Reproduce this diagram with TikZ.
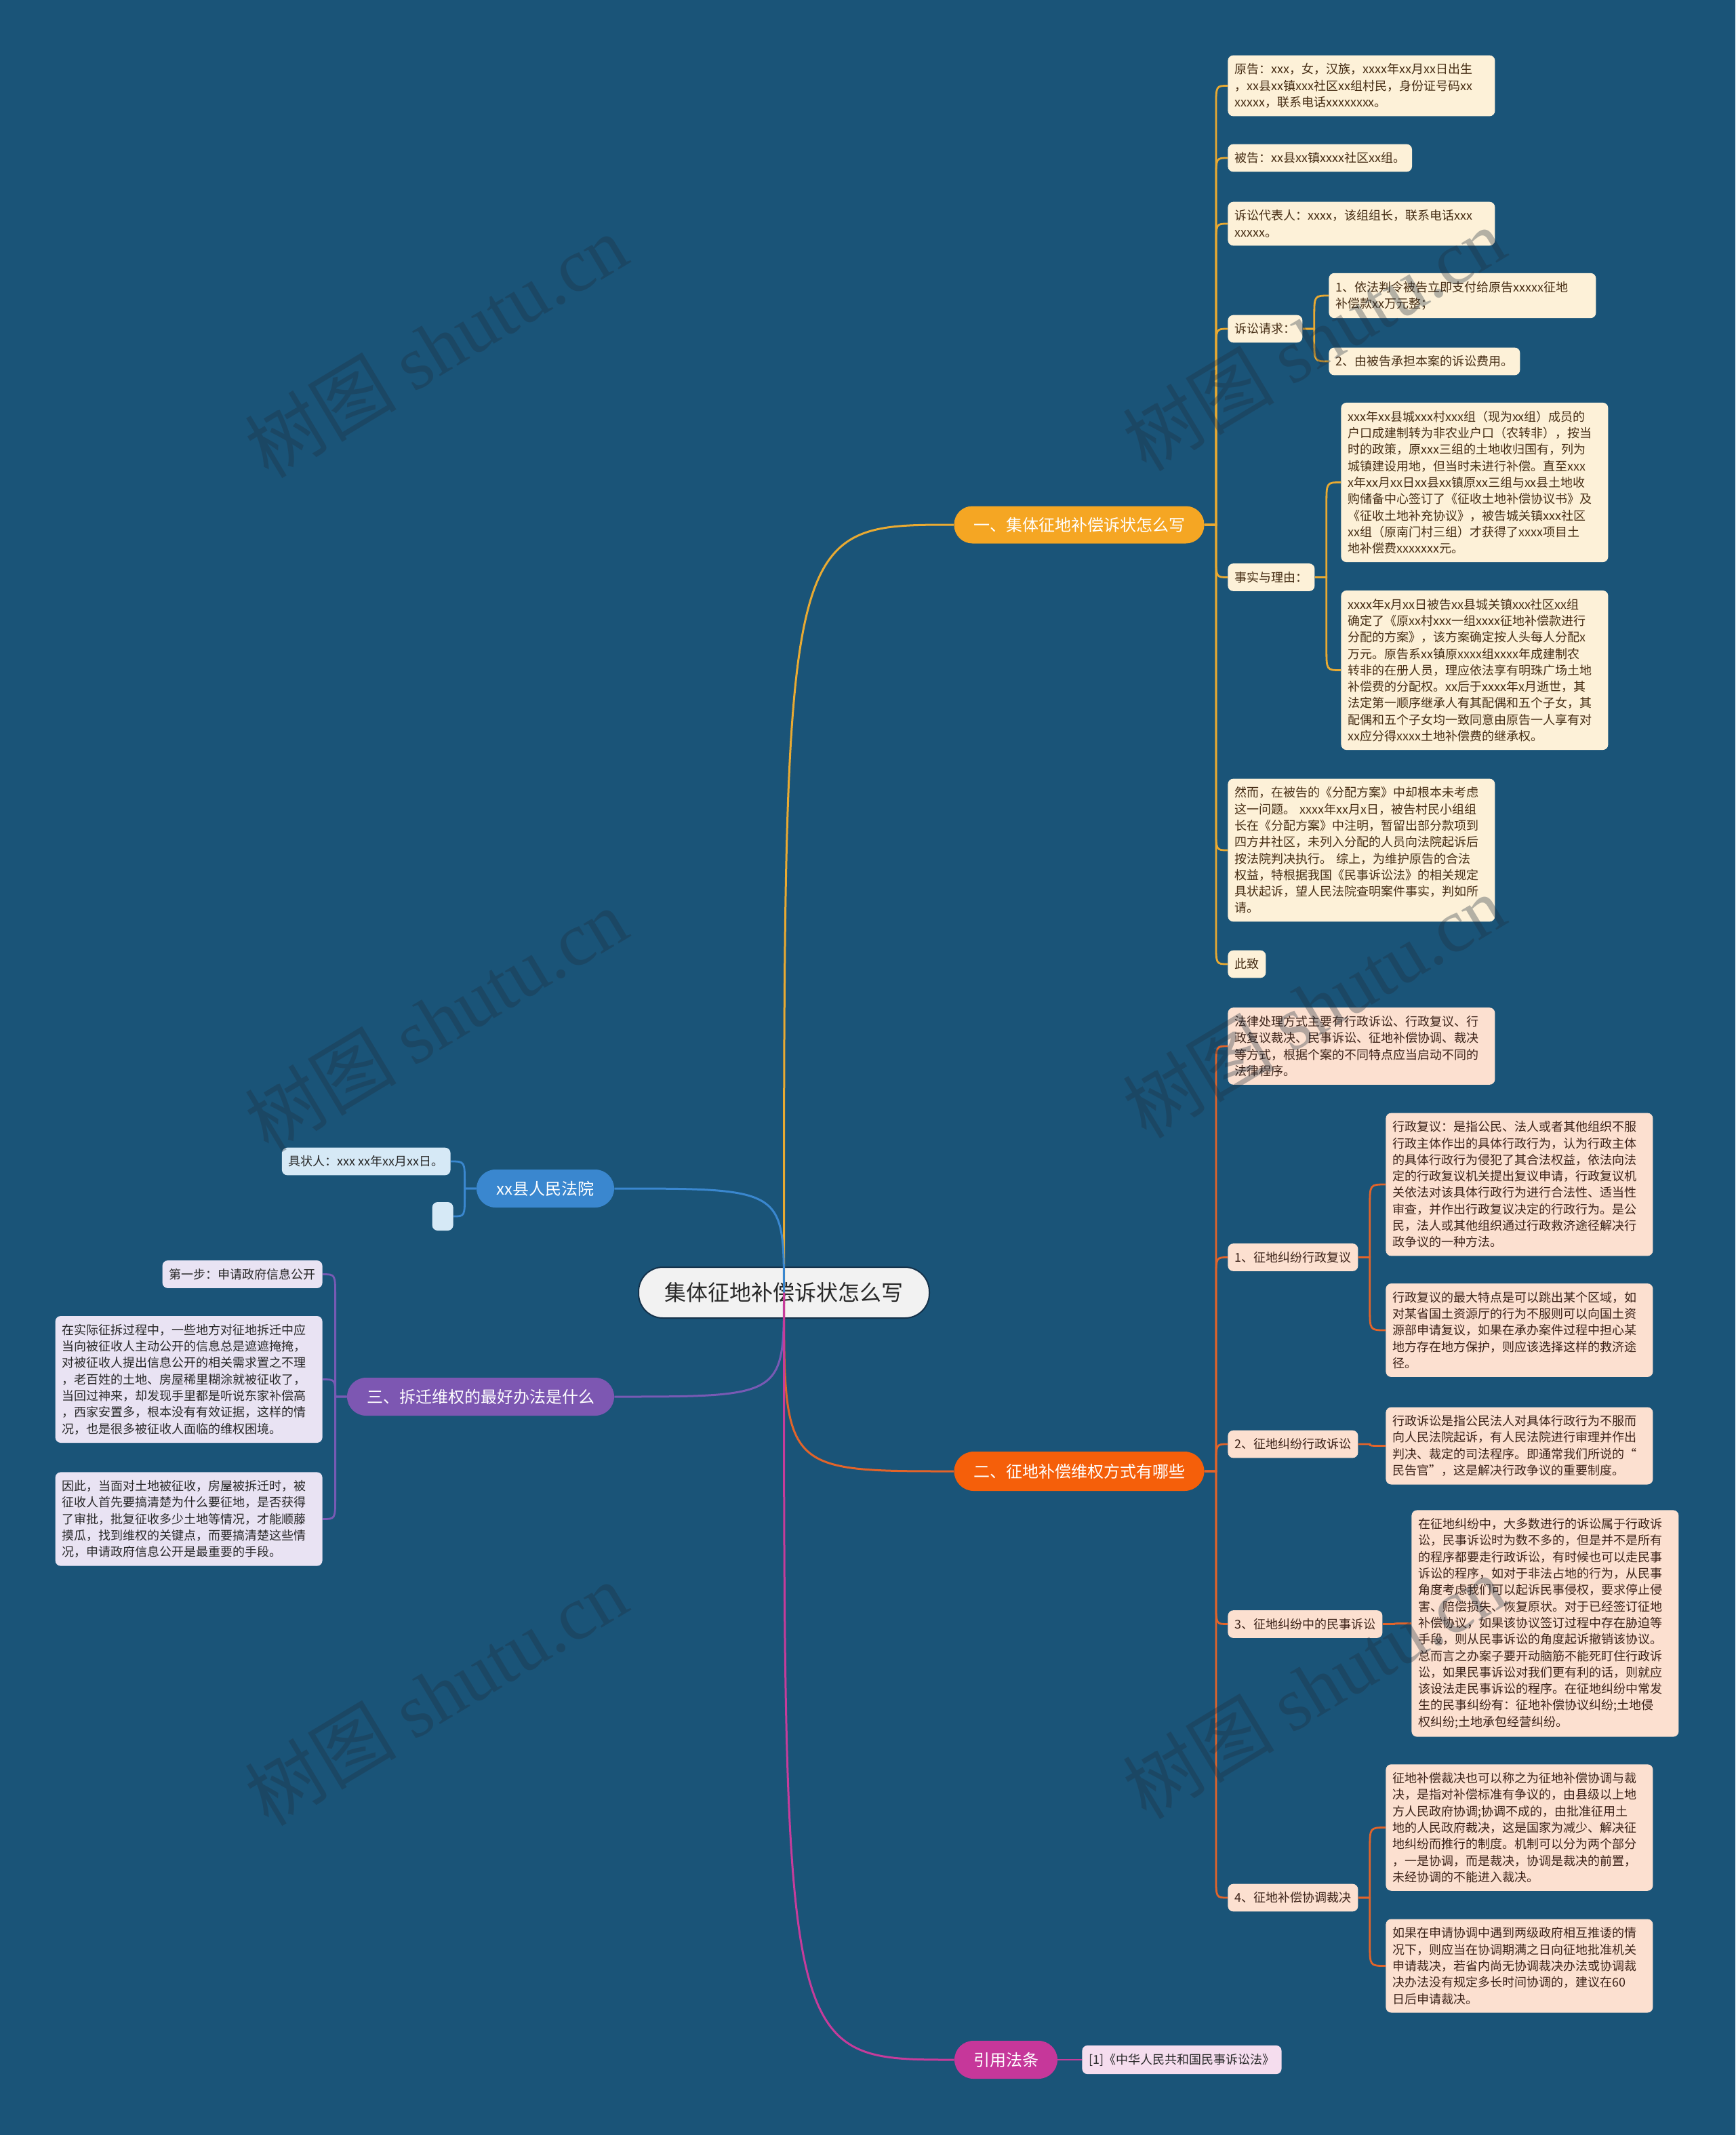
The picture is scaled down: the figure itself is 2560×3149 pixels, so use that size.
\documentclass[tikz,border=0pt]{standalone}
\usepackage{fontspec}
\setmainfont{Noto Sans CJK SC}
\newfontfamily\wmserif{Liberation Serif}
\usetikzlibrary{calc}
\definecolor{bg}{RGB}{26,84,120}
\definecolor{yelB}{RGB}{245,166,35}
\definecolor{yelL}{RGB}{233,170,50}
\definecolor{cream}{RGB}{253,241,216}
\definecolor{creamtx}{RGB}{70,45,20}
\definecolor{oraB}{RGB}{245,95,10}
\definecolor{oraL}{RGB}{226,100,42}
\definecolor{peach}{RGB}{252,224,208}
\definecolor{peachtx}{RGB}{60,35,25}
\definecolor{purB}{RGB}{125,87,178}
\definecolor{purL}{RGB}{120,90,180}
\definecolor{lav}{RGB}{233,227,243}
\definecolor{bluB}{RGB}{58,135,207}
\definecolor{bluL}{RGB}{58,135,207}
\definecolor{lblue}{RGB}{214,233,246}
\definecolor{magB}{RGB}{198,55,154}
\definecolor{magL}{RGB}{198,60,155}
\definecolor{pinkL}{RGB}{245,221,238}
\definecolor{rootfill}{RGB}{242,242,242}
\definecolor{darktx}{RGB}{40,40,40}
\definecolor{wmc}{RGB}{30,45,60}
\newcommand\rconn[3]{\draw[#1] let \p1=(#2.east), \p2=(#3.west) in (\p1) -- (\x1+8.5pt,\y1) -- (\x1+8.5pt,{\y2+sign(\y1-\y2)*min(16pt,abs(\y1-\y2))}) .. controls (\x1+8.5pt,\y2) .. (\p2);}
\newcommand\lconn[3]{\draw[#1] let \p1=(#2.west), \p2=(#3.east) in (\p1) -- (\x1-8.5pt,\y1) -- (\x1-8.5pt,{\y2+sign(\y1-\y2)*min(16pt,abs(\y1-\y2))}) .. controls (\x1-8.5pt,\y2) .. (\p2);}
\begin{document}
\begin{tikzpicture}[x=0.5pt,y=-0.5pt,
  root/.style={fill=rootfill, draw={rgb,255:red,20;green,50;blue,75}, line width=1pt, text=darktx, rounded corners=18pt, minimum width=214.5pt, minimum height=37.5pt, font=\fontsize{16pt}{19pt}\selectfont},
  branch/.style={rounded corners=13.5pt, text=white, minimum height=27.5pt, inner xsep=8pt, font=\fontsize{12pt}{14pt}\selectfont},
  leaf/.style={rounded corners=4pt, inner xsep=5pt, inner ysep=6pt, align=left, anchor=west, font=\fontsize{9pt}{12.15pt}\selectfont},
  wide/.style={text width=187pt},
  cr/.style={leaf, fill=cream, text=creamtx},
  pc/.style={leaf, fill=peach, text=peachtx},
  lv/.style={leaf, fill=lav, text=darktx, anchor=east},
  lb/.style={leaf, fill=lblue, text=darktx, anchor=east},
  pk/.style={leaf, fill=pinkL, text=darktx},
  mainc/.style={line width=1.5pt},
  subc/.style={line width=1.4pt},
  wm/.style={rotate=31, text=wmc, opacity=0.33, font=\fontsize{56pt}{60pt}\selectfont}
]
\fill[bg] (0,0) rectangle (2560,3149);
\useasboundingbox (0,0) rectangle (2560,3149);

% root
\node[root] (root) at (1156.5,1906.5) {集体征地补偿诉状怎么写};

% branches
\node[branch, fill=yelB, minimum width=184.5pt] (B1) at (1592,774) {一、集体征地补偿诉状怎么写};
\node[branch, fill=oraB, minimum width=184.5pt, minimum height=29pt, rounded corners=14.5pt] (B2) at (1592,2170) {二、征地补偿维权方式有哪些};
\node[branch, fill=purB, minimum width=197pt, minimum height=28pt, rounded corners=14pt] (B3) at (709,2060) {三、拆迁维权的最好办法是什么};
\node[branch, fill=bluB, minimum width=101.5pt, minimum height=28pt, rounded corners=14pt] (B4) at (804.5,1753) {xx县人民法院};
\node[branch, fill=magB, minimum width=76pt, minimum height=28pt, rounded corners=14pt] (B5) at (1484,3038) {引用法条};

% branch 1 leaves
\node[cr, wide] (n11) at (1811,126.5) {原告：xxx，女，汉族，xxxx年xx月xx日出生\\，xx县xx镇xxx社区xx组村民，身份证号码xx\\xxxxx，联系电话xxxxxxxx。};
\node[cr] (n12) at (1811,233) {被告：xx县xx镇xxxx社区xx组。};
\node[cr, wide] (n13) at (1811,330) {诉讼代表人：xxxx，该组组长，联系电话xxx\\xxxxx。};
\node[cr] (n14) at (1811,485) {诉讼请求：};
\node[cr, wide] (n141) at (1960,436) {1、依法判令被告立即支付给原告xxxxx征地\\补偿款xx万元整；};
\node[cr] (n142) at (1960,533) {2、由被告承担本案的诉讼费用。};
\node[cr] (n15) at (1811,851.5) {事实与理由：};
\node[cr, wide] (n151) at (1978,711.5) {xxx年xx县城xxx村xxx组（现为xx组）成员的\\户口成建制转为非农业户口（农转非），按当\\时的政策，原xxx三组的土地收归国有，列为\\城镇建设用地，但当时未进行补偿。直至xxx\\x年xx月xx日xx县xx镇原xx三组与xx县土地收\\购储备中心签订了《征收土地补偿协议书》及\\《征收土地补充协议》，被告城关镇xxx社区\\xx组（原南门村三组）才获得了xxxx项目土\\地补偿费xxxxxxx元。};
\node[cr, wide] (n152) at (1978,988.5) {xxxx年x月xx日被告xx县城关镇xxx社区xx组\\确定了《原xx村xxx一组xxxx征地补偿款进行\\分配的方案》，该方案确定按人头每人分配x\\万元。原告系xx镇原xxxx组xxxx年成建制农\\转非的在册人员，理应依法享有明珠广场土地\\补偿费的分配权。xx后于xxxx年x月逝世，其\\法定第一顺序继承人有其配偶和五个子女，其\\配偶和五个子女均一致同意由原告一人享有对\\xx应分得xxxx土地补偿费的继承权。};
\node[cr, wide] (n16) at (1811,1254) {然而，在被告的《分配方案》中却根本未考虑\\这一问题。 xxxx年xx月x日，被告村民小组组\\长在《分配方案》中注明，暂留出部分款项到\\四方井社区，未列入分配的人员向法院起诉后\\按法院判决执行。 综上，为维护原告的合法\\权益，特根据我国《民事诉讼法》的相关规定\\具状起诉，望人民法院查明案件事实，判如所\\请。};
\node[cr] (n17) at (1811,1422) {此致};

% branch 2 leaves
\node[pc, wide] (n21) at (1811,1543) {法律处理方式主要有行政诉讼、行政复议、行\\政复议裁决、民事诉讼、征地补偿协调、裁决\\等方式，根据个案的不同特点应当启动不同的\\法律程序。};
\node[pc] (n22) at (1811,1854.5) {1、征地纠纷行政复议};
\node[pc, wide] (n221) at (2044,1747) {行政复议：是指公民、法人或者其他组织不服\\行政主体作出的具体行政行为，认为行政主体\\的具体行政行为侵犯了其合法权益，依法向法\\定的行政复议机关提出复议申请，行政复议机\\关依法对该具体行政行为进行合法性、适当性\\审查，并作出行政复议决定的行政行为。是公\\民，法人或其他组织通过行政救济途径解决行\\政争议的一种方法。};
\node[pc, wide] (n222) at (2044,1962) {行政复议的最大特点是可以跳出某个区域，如\\对某省国土资源厅的行为不服则可以向国土资\\源部申请复议，如果在承办案件过程中担心某\\地方存在地方保护，则应该选择这样的救济途\\径。};
\node[pc] (n23) at (1811,2130) {2、征地纠纷行政诉讼};
\node[pc, wide] (n231) at (2044,2132.5) {行政诉讼是指公民法人对具体行政行为不服而\\向人民法院起诉，有人民法院进行审理并作出\\判决、裁定的司法程序。即通常我们所说的“\\民告官”，这是解决行政争议的重要制度。};
\node[pc] (n24) at (1811,2395.5) {3、征地纠纷中的民事诉讼};
\node[pc, wide] (n241) at (2082,2394.5) {在征地纠纷中，大多数进行的诉讼属于行政诉\\讼，民事诉讼时为数不多的，但是并不是所有\\的程序都要走行政诉讼，有时候也可以走民事\\诉讼的程序，如对于非法占地的行为，从民事\\角度考虑我们可以起诉民事侵权，要求停止侵\\害、赔偿损失、恢复原状。对于已经签订征地\\补偿协议，如果该协议签订过程中存在胁迫等\\手段，则从民事诉讼的角度起诉撤销该协议。\\总而言之办案子要开动脑筋不能死盯住行政诉\\讼，如果民事诉讼对我们更有利的话，则就应\\该设法走民事诉讼的程序。在征地纠纷中常发\\生的民事纠纷有：征地补偿协议纠纷;土地侵\\权纠纷;土地承包经营纠纷。};
\node[pc] (n25) at (1811,2799) {4、征地补偿协调裁决};
\node[pc, wide] (n251) at (2044,2695.5) {征地补偿裁决也可以称之为征地补偿协调与裁\\决，是指对补偿标准有争议的，由县级以上地\\方人民政府协调;协调不成的，由批准征用土\\地的人民政府裁决，这是国家为减少、解决征\\地纠纷而推行的制度。机制可以分为两个部分\\，一是协调，而是裁决，协调是裁决的前置，\\未经协调的不能进入裁决。};
\node[pc, wide] (n252) at (2044,2899.5) {如果在申请协调中遇到两级政府相互推诿的情\\况下，则应当在协调期满之日向征地批准机关\\申请裁决，若省内尚无协调裁决办法或协调裁\\决办法没有规定多长时间协调的，建议在60\\日后申请裁决。};

% blue leaves
\node[lb] (n31) at (665,1713) {具状人：xxx xx年xx月xx日。};
\node[lb, minimum width=15.5pt, minimum height=21pt, inner sep=0pt] (n32) at (669,1794) {};

% purple leaves
\node[lv] (n41) at (476,1879.5) {第一步：申请政府信息公开};
\node[lv, wide] (n42) at (476,2034.5) {在实际征拆过程中，一些地方对征地拆迁中应\\当向被征收人主动公开的信息总是遮遮掩掩，\\对被征收人提出信息公开的相关需求置之不理\\，老百姓的土地、房屋稀里糊涂就被征收了，\\当回过神来，却发现手里都是听说东家补偿高\\，西家安置多，根本没有有效证据，这样的情\\况，也是很多被征收人面临的维权困境。};
\node[lv, wide] (n43) at (476,2240.5) {因此，当面对土地被征收，房屋被拆迁时，被\\征收人首先要搞清楚为什么要征地，是否获得\\了审批，批复征收多少土地等情况，才能顺藤\\摸瓜，找到维权的关键点，而要搞清楚这些情\\况，申请政府信息公开是最重要的手段。};

% magenta leaf
\node[pk] (n51) at (1596,3038) {[1]《中华人民共和国民事诉讼法》};

% main connectors
\draw[mainc, yelL] (root.center) .. controls (root.center |- B1.west) .. (B1.west);
\draw[mainc, oraL] (root.center) .. controls (root.center |- B2.west) .. (B2.west);
\draw[mainc, purL] (root.center) .. controls (root.center |- B3.east) .. (B3.east);
\draw[mainc, bluL] (root.center) .. controls (root.center |- B4.east) .. (B4.east);
\draw[mainc, magL] (root.center) .. controls (root.center |- B5.west) .. (B5.west);

% sub connectors
\foreach \c in {n11,n12,n13,n14,n15,n16,n17} {\rconn{subc, yelL}{B1}{\c}}
\rconn{subc, yelL}{n14}{n141}
\rconn{subc, yelL}{n14}{n142}
\rconn{subc, yelL}{n15}{n151}
\rconn{subc, yelL}{n15}{n152}
\foreach \c in {n21,n22,n23,n24,n25} {\rconn{subc, oraL}{B2}{\c}}
\rconn{subc, oraL}{n22}{n221}
\rconn{subc, oraL}{n22}{n222}
\rconn{subc, oraL}{n23}{n231}
\rconn{subc, oraL}{n24}{n241}
\rconn{subc, oraL}{n25}{n251}
\rconn{subc, oraL}{n25}{n252}
\lconn{subc, bluL}{B4}{n31}
\lconn{subc, bluL}{B4}{n32}
\lconn{subc, purL}{B3}{n41}
\lconn{subc, purL}{B3}{n42}
\lconn{subc, purL}{B3}{n43}
\draw[subc, magL] (B5.east) -- (n51.west);

% watermarks
\foreach \wx/\wy in {643/510, 1938/500, 643/1504, 1938/1484, 643/2498, 1938/2488}
  \node[wm] at (\wx,\wy) {树图 {\wmserif shutu.cn}};
\end{tikzpicture}
\end{document}
